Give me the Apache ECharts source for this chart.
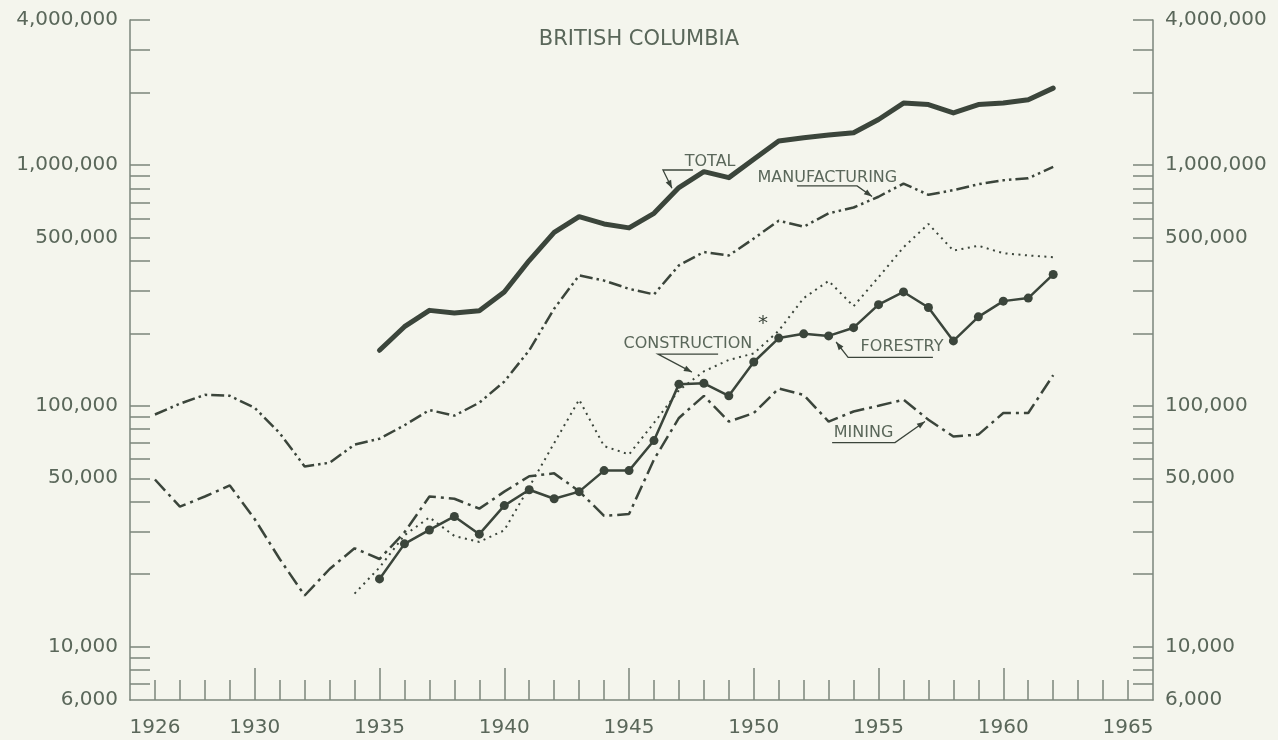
<!DOCTYPE html>
<html>
<head>
<meta charset="utf-8">
<title>British Columbia</title>
<script src="https://cdn.jsdelivr.net/npm/echarts@6/dist/echarts.min.js"></script>
<style>
  html, body { margin: 0; padding: 0; background: #f4f5ed; }
  #chart { width: 1278px; height: 740px; }
</style>
</head>
<body>
<div id="chart"></div>
<script>
// years along the bottom
const YEARS = [1926, 1927, 1928, 1929, 1930, 1931, 1932, 1933, 1934, 1935,
  1936, 1937, 1938, 1939, 1940, 1941, 1942, 1943, 1944, 1945,
  1946, 1947, 1948, 1949, 1950, 1951, 1952, 1953, 1954, 1955,
  1956, 1957, 1958, 1959, 1960, 1961, 1962];

// values read off the log scale (null = not plotted)
const TOTAL = [null, null, null, null, null, null, null, null, null,
  170000, 213000, 249000, 243000, 248000,
  297000, 401000, 525000, 610000, 569000,
  548000, 630000, 806000, 938000, 886000,
  1056000, 1257000, 1297000, 1331000, 1360000,
  1545000, 1808000, 1782000, 1644000, 1782000,
  1808000, 1867000, 2085000];

const MANUFACTURING = [92000, 102000, 111000, 110000, 98000,
  77000, 56000, 58000, 69000, 73000,
  83000, 96000, 91000, 103000, 126000,
  170000, 253000, 348000, 331000, 306000,
  290000, 383000, 435000, 421000, 495000,
  587000, 554000, 630000, 666000, 738000,
  837000, 752000, 786000, 832000, 864000,
  881000, 981000];

const CONSTRUCTION = [null, null, null, null, null, null, null, null,
  16600, 21300,
  29000, 34400, 28800, 27200, 30400,
  46000, 70000, 106000, 68000, 62800,
  84900, 116000, 139000, 155000, 165000,
  205000, 280000, 330000, 259000, 342000,
  455000, 569000, 441000, 462000, 430000,
  421000, 414000];

const FORESTRY = [null, null, null, null, null, null, null, null, null,
  19100, 26700, 30500, 34700, 29300,
  38500, 44800, 41100, 44000, 53800,
  53800, 71700, 123000, 124000, 110000,
  152000, 191000, 199000, 195000, 211000,
  263000, 297000, 256000, 186000, 234000,
  272000, 280000, 351000];

const MINING = [49400, 38100, 42000, 46700, 33800,
  23100, 16300, 21000, 25600, 23100,
  29800, 42000, 41100, 37400, 44000,
  51000, 52400, 44200, 34900, 35500,
  59800, 89000, 110000, 86000, 93300,
  118000, 111000, 86000, 94700, 100000,
  106000, 87500, 74600, 75900, 93300,
  93300, 134000];

// axis ticks and labels
const X_LABELS = [1926, 1930, 1935, 1940, 1945, 1950, 1955, 1960, 1965];
const X_MAJOR = [1930, 1935, 1940, 1945, 1950, 1955, 1960];
const X_MINOR = [1926, 1927, 1928, 1929, 1931, 1932, 1933, 1934, 1936, 1937, 1938, 1939,
  1941, 1942, 1943, 1944, 1946, 1947, 1948, 1949, 1951, 1952, 1953, 1954,
  1956, 1957, 1958, 1959, 1961, 1962, 1963, 1964, 1965];
const Y_LABELS = [6000, 10000, 50000, 100000, 500000, 1000000, 4000000];
const Y_TICKS = [7000, 8000, 9000, 10000, 20000, 30000, 40000, 50000, 60000, 70000, 80000, 90000,
  100000, 200000, 300000, 400000, 500000, 600000, 700000, 800000, 900000,
  1000000, 2000000, 3000000, 4000000];

// labels drawn on the plot: text spot and leader line, in data units
const NOTES = [
  { text: 'TOTAL', at: [1948.25, 1030000], leader: [[1947.56, 953000], [1946.36, 953000], [1946.72, 800000]] },
  { text: 'MANUFACTURING', at: [1952.95, 884000], leader: [[1951.73, 819000], [1954.14, 819000], [1954.74, 740000]] },
  { text: 'CONSTRUCTION', at: [1947.36, 180000], leader: [[1948.57, 164000], [1946.16, 164000], [1947.52, 138000]] },
  { text: 'FORESTRY', at: [1955.94, 175000], leader: [[1957.18, 159000], [1953.78, 159000], [1953.3, 184000]] },
  { text: 'MINING', at: [1954.4, 77400], leader: [[1953.14, 70300], [1955.66, 70300], [1956.86, 86000]] }
];
const STAR_AT = [1950.37, 218000];

const INK = '#3b453b';
const TEXT = '#5a675a';
const AXIS = '#7b857b';
const FONT = 'DejaVu Sans';

let chart = echarts.init(document.getElementById('chart'), null, { renderer: 'canvas' });

function pairs(arr) {
  return YEARS.map((y, i) => [y, arr[i]]).filter(d => d[1] != null);
}

function yAxisFor(pos) {
  return {
    type: 'log',
    logBase: 10,
    position: pos,
    min: 6000,
    max: 4000000,
    axisLine: { show: true, lineStyle: { color: AXIS, width: 1.5 } },
    axisTick: { show: true, inside: true, length: 20, customValues: Y_TICKS, lineStyle: { color: AXIS, width: 1.5 } },
    axisLabel: {
      customValues: Y_LABELS,
      margin: 12,
      color: TEXT,
      fontFamily: FONT,
      fontSize: 20,
      formatter: v => Number(v).toLocaleString('en-US')
    },
    splitLine: { show: false },
    minorTick: { show: false }
  };
}

const option = {
  backgroundColor: '#f4f5ed',
  animation: false,
  title: {
    text: 'BRITISH COLUMBIA',
    left: 'center',
    top: 24,
    textStyle: { color: TEXT, fontFamily: FONT, fontSize: 21, fontWeight: 'normal' }
  },
  grid: { left: 130, right: 125, top: 20, bottom: 40 },
  xAxis: [
    {
      // long ticks every five years, and the year labels
      type: 'value',
      min: 1925,
      max: 1966,
      axisLine: { lineStyle: { color: AXIS, width: 1.5 } },
      axisTick: { inside: true, length: 32, customValues: X_MAJOR, lineStyle: { color: AXIS, width: 1.5 } },
      axisLabel: {
        customValues: X_LABELS,
        margin: 18,
        color: TEXT,
        fontFamily: FONT,
        fontSize: 20,
        formatter: v => String(v)
      },
      splitLine: { show: false }
    },
    {
      // short yearly ticks
      type: 'value',
      position: 'bottom',
      min: 1925,
      max: 1966,
      axisLine: { show: false },
      axisTick: { inside: true, length: 20, customValues: X_MINOR, lineStyle: { color: AXIS, width: 1.5 } },
      axisLabel: { show: false },
      splitLine: { show: false }
    }
  ],
  yAxis: [yAxisFor('left'), yAxisFor('right')],
  series: [
    {
      name: 'Total', type: 'line', data: pairs(TOTAL), symbol: 'none',
      lineStyle: { color: INK, width: 5, cap: 'round', join: 'round' }
    },
    {
      name: 'Manufacturing', type: 'line', data: pairs(MANUFACTURING), symbol: 'none',
      lineStyle: { color: INK, width: 2.5, type: [13, 4, 2.5, 4, 2.5, 4] }
    },
    {
      name: 'Construction', type: 'line', data: pairs(CONSTRUCTION), symbol: 'none',
      lineStyle: { color: INK, width: 2, type: [2, 4.5] }
    },
    {
      name: 'Forestry', type: 'line', data: pairs(FORESTRY), symbol: 'circle', symbolSize: 9,
      itemStyle: { color: INK },
      lineStyle: { color: INK, width: 2.5 }
    },
    {
      name: 'Mining', type: 'line', data: pairs(MINING), symbol: 'none',
      lineStyle: { color: INK, width: 2.5, type: [15, 5, 3, 5] }
    }
  ]
};

chart.setOption(option);

// annotation text and leader arrows, placed through the chart's own scales
const px = p => chart.convertToPixel({ xAxisIndex: 0, yAxisIndex: 0 }, p);
const graphic = [];
NOTES.forEach(n => {
  const c = px(n.at);
  graphic.push({
    type: 'text', x: c[0], y: c[1], silent: true,
    style: { text: n.text, fill: TEXT, font: '16px "' + FONT + '"', align: 'center', verticalAlign: 'middle' }
  });
  const pts = n.leader.map(px);
  graphic.push({
    type: 'polyline', silent: true,
    shape: { points: pts },
    style: { stroke: INK, lineWidth: 1.3, fill: null }
  });
  // small arrow head at the tip
  const a = pts[pts.length - 2], b = pts[pts.length - 1];
  const dx = b[0] - a[0], dy = b[1] - a[1];
  const len = Math.sqrt(dx * dx + dy * dy) || 1;
  const ux = dx / len, uy = dy / len;
  const bx = b[0] - ux * 8, by = b[1] - uy * 8;
  graphic.push({
    type: 'polygon', silent: true,
    shape: { points: [b, [bx - uy * 3, by + ux * 3], [bx + uy * 3, by - ux * 3]] },
    style: { fill: INK }
  });
});
const s = px(STAR_AT);
graphic.push({
  type: 'text', x: s[0], y: s[1], silent: true,
  style: { text: '*', fill: INK, font: '20px "' + FONT + '"', align: 'center', verticalAlign: 'middle' }
});
chart.setOption({ graphic: graphic });
</script>
</body>
</html>
